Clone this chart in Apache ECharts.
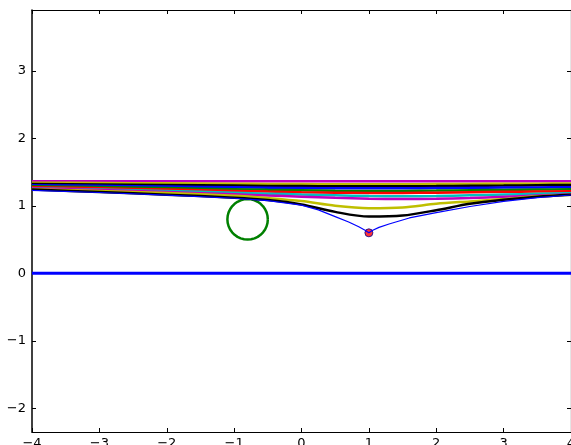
<!DOCTYPE html>
<html>
<head>
<meta charset="utf-8">
<script src="https://cdn.jsdelivr.net/npm/echarts@6/dist/echarts.min.js"></script>
<style>
  html, body { margin: 0; padding: 0; background: #fff; }
  #chart { width: 571px; height: 445px; }
</style>
</head>
<body>
<div id="chart"></div>
<script>
// Sample x positions shared by the trajectory curves
const xs = [-4, -3, -2, -1, -0.5, 0, 0.5, 1, 1.5, 2, 2.5, 3, 3.5, 4];

// Trajectories, listed from the highest to the lowest
const trajM1 = [1.362, 1.363, 1.364, 1.365, 1.365, 1.365, 1.365, 1.365, 1.365, 1.364, 1.364, 1.363, 1.363, 1.362];
const trajY1 = [1.343, 1.338, 1.333, 1.327, 1.324, 1.322, 1.32, 1.32, 1.32, 1.322, 1.324, 1.326, 1.328, 1.33];
const trajK1 = [1.323, 1.316, 1.308, 1.299, 1.295, 1.292, 1.29, 1.289, 1.29, 1.292, 1.296, 1.3, 1.305, 1.31];
const trajB1 = [1.305, 1.296, 1.285, 1.274, 1.268, 1.263, 1.26, 1.259, 1.26, 1.263, 1.266, 1.27, 1.273, 1.275];
const trajG1 = [1.29, 1.277, 1.262, 1.245, 1.236, 1.229, 1.223, 1.22, 1.221, 1.225, 1.23, 1.235, 1.24, 1.245];
const trajR1 = [1.275, 1.26, 1.241, 1.221, 1.211, 1.202, 1.195, 1.19, 1.191, 1.195, 1.201, 1.207, 1.212, 1.215];
const trajC1 = [1.26, 1.243, 1.22, 1.193, 1.18, 1.167, 1.155, 1.145, 1.142, 1.145, 1.155, 1.167, 1.178, 1.185];
const trajM2 = [1.255, 1.235, 1.205, 1.17, 1.152, 1.135, 1.118, 1.105, 1.1, 1.104, 1.115, 1.133, 1.152, 1.17];
const trajY2 = [1.245, 1.22, 1.19, 1.15, 1.115, 1.07, 1.0, 0.965, 0.975, 1.03, 1.065, 1.1, 1.14, 1.165];
const trajK2 = [1.24, 1.205, 1.165, 1.12, 1.085, 1.02, 0.91, 0.84, 0.855, 0.935, 1.03, 1.09, 1.135, 1.165];

// Lowest trajectory with its cusp at the marked point
const cuspX = [-4, -3, -2, -1, -0.5, 0, 0.25, 0.5, 0.7, 0.85, 0.95, 1, 1.05, 1.15, 1.3, 1.6, 2, 2.5, 3, 3.5, 4];
const cuspY = [1.23, 1.197, 1.157, 1.112, 1.078, 1.01, 0.94, 0.84, 0.76, 0.69, 0.635, 0.6, 0.635, 0.68, 0.73, 0.82, 0.9, 0.99, 1.065, 1.12, 1.16];

// Ground line, obstacle circle and marked point
const groundX = [-4, 4];
const groundY = [0, 0];
const circleCenter = [-0.8, 0.8];
const circleRadius = 0.3;
const markPoint = [1, 0.6];

// Tick labels
const xTicks = [-4, -3, -2, -1, 0, 1, 2, 3, 4];
const yTicks = [-2, -1, 0, 1, 2, 3];

const C = { b: '#0000ff', g: '#008000', r: '#ff0000', c: '#00bfbf', m: '#bf00bf', y: '#bfbf00', k: '#000000' };

const zip = (a, b) => a.map((v, i) => [v, b[i]]);
const fmt = v => String(v).replace('-', '\u2212');

const circlePts = [];
for (let i = 0; i <= 72; i++) {
  const t = (i / 72) * Math.PI * 2;
  circlePts.push([circleCenter[0] + circleRadius * Math.cos(t), circleCenter[1] + circleRadius * Math.sin(t)]);
}

const curve = (data, color, width) => ({
  type: 'line', data: data, showSymbol: false, smooth: 0.3, animation: false,
  lineStyle: { color: color, width: width }, clip: true, z: 2
});

const trajs = [
  [trajM1, C.m], [trajY1, C.y], [trajK1, C.k], [trajB1, C.b], [trajG1, C.g],
  [trajR1, C.r], [trajC1, C.c], [trajM2, C.m], [trajY2, C.y], [trajK2, C.k]
];

const series = [
  { type: 'line', data: zip(groundX, groundY), showSymbol: false, animation: false,
    lineStyle: { color: C.b, width: 3 }, z: 2 },
  { type: 'line', data: circlePts, showSymbol: false, animation: false,
    lineStyle: { color: C.g, width: 2.5 }, z: 2 },
  { type: 'scatter', data: [markPoint], symbolSize: 8, animation: false,
    itemStyle: { color: C.r, borderColor: '#00008f', borderWidth: 1 }, z: 3 }
];
trajs.forEach(([d, col]) => series.push(curve(zip(xs, d), col, 2.5)));
series.push({ type: 'line', data: zip(cuspX, cuspY), showSymbol: false, smooth: false, animation: false,
  lineStyle: { color: C.b, width: 1.2 }, z: 4 });

const labelFont = { color: '#000', fontSize: 13, fontFamily: 'DejaVu Sans' };

const chart = echarts.init(document.getElementById('chart'), null, { renderer: 'canvas' });
chart.setOption({
  backgroundColor: '#fff',
  animation: false,
  grid: { left: 32, right: 0, top: 10, bottom: 13, containLabel: false, outerBoundsMode: 'none' },
  xAxis: [
    { type: 'value', min: -4, max: 4, interval: 1, position: 'bottom',
      axisLine: { show: true, onZero: false, lineStyle: { color: '#000', width: 1.2 } },
      axisTick: { show: true, inside: true, length: 4, lineStyle: { color: '#000' } },
      axisLabel: Object.assign({ margin: 5, formatter: v => fmt(v), showMaxLabel: true, showMinLabel: true,
        customValues: xTicks }, labelFont),
      splitLine: { show: false } },
    { type: 'value', min: -4, max: 4, interval: 1, position: 'top',
      axisLine: { show: true, onZero: false, lineStyle: { color: '#000', width: 1.2 } },
      axisTick: { show: true, inside: true, length: 4, lineStyle: { color: '#000' } },
      axisLabel: { show: false }, splitLine: { show: false } }
  ],
  yAxis: [
    { type: 'value', min: -2.35, max: 3.9, position: 'left',
      axisLine: { show: true, onZero: false, lineStyle: { color: '#000', width: 1.5 } },
      axisTick: { show: true, inside: true, length: 4, customValues: yTicks, lineStyle: { color: '#000' } },
      axisLabel: Object.assign({ margin: 6, formatter: v => fmt(v), customValues: yTicks }, labelFont),
      splitLine: { show: false } },
    { type: 'value', min: -2.35, max: 3.9, position: 'right',
      axisLine: { show: true, onZero: false, lineStyle: { color: '#000', width: 1.2 } },
      axisTick: { show: true, inside: true, length: 4, customValues: yTicks, lineStyle: { color: '#000' } },
      axisLabel: { show: false }, splitLine: { show: false } }
  ],
  series: series
});
</script>
</body>
</html>
